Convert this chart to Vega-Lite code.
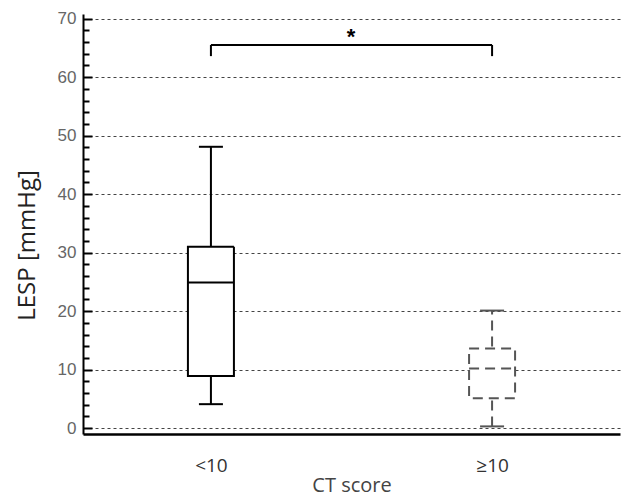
{
  "$schema": "https://vega.github.io/schema/vega-lite/v6.json",
  "width": 537,
  "height": 420,
  "autosize": "none",
  "padding": {"left": 83, "top": 14, "right": 6, "bottom": 63},
  "background": "white",
  "config": {"view": {"stroke": null}},
  "datasets": {
    "boxes": [
      {"group": "<10", "min": 4.1, "q1": 8.9, "median": 24.9, "q3": 31.0, "max": 48.1},
      {"group": "≥10", "min": 0.3, "q1": 5.1, "median": 10.2, "q3": 13.6, "max": 20.1}
    ],
    "bracket": [
      {"from": "<10", "to": "≥10", "y": 65.5, "low": 63.6, "label": "*", "mid": 67.6}
    ]
  },
  "layer": [
    {
      "data": {"name": "boxes"},
      "mark": {"type": "rule", "strokeWidth": 2},
      "encoding": {
        "x": {"field": "group", "type": "nominal", "scale": {"type": "point", "domain": ["<10", "≥10"], "padding": 0.455},
          "title": "CT score",
          "axis": {"labelAngle": 0, "domainWidth": 2.5, "domainColor": "#000", "ticks": false, "labelPadding": 22, "labelFontSize": 19, "labelFont": "Open Sans", "labelColor": "#333", "titleFont": "Open Sans", "titleFontSize": 20, "titleFontWeight": "normal", "titleColor": "#444", "titlePadding": 0, "grid": false}},
        "y": {"field": "min", "type": "quantitative", "scale": {"domain": [-1, 70.8], "nice": false, "zero": false},
          "title": "LESP [mmHg]",
          "axis": {
            "values": [0,2,4,6,8,10,12,14,16,18,20,22,24,26,28,30,32,34,36,38,40,42,44,46,48,50,52,54,56,58,60,62,64,66,68,70],
            "tickCount": 100,
            "labelExpr": "datum.value % 10 === 0 ? datum.label : ''",
            "labelOverlap": false,
            "domainColor": "#000", "domainWidth": 2,
            "tickColor": "#000", "tickWidth": 2,
            "tickSize": {"condition": {"test": "datum.value % 10 === 0", "value": -9}, "value": -6},
            "labelPadding": 16,
            "labelFont": "Liberation Sans", "labelFontSize": 17, "labelColor": "#666",
            "grid": true, "gridColor": "#444", "gridDash": [3, 3], "gridWidth": 1,
            "gridOpacity": {"condition": {"test": "datum.value % 10 === 0", "value": 1}, "value": 0},
            "titleFont": "Open Sans", "titleFontSize": 24, "titleFontWeight": "normal", "titleColor": "#222",
            "titleX": -56, "titleY": 231, "titleAngle": -90, "titleBaseline": "middle", "titleAlign": "center"
          }},
        "y2": {"field": "max"},
        "stroke": {"field": "group", "type": "nominal", "scale": {"domain": ["<10", "≥10"], "range": ["#000000", "#555555"]}, "legend": null},
        "strokeDash": {"field": "group", "type": "nominal", "scale": {"domain": ["<10", "≥10"], "range": [[1, 0], [10, 6]]}, "legend": null}
      }
    },
    {
      "data": {"name": "boxes"},
      "mark": {"type": "bar", "size": 46, "fill": "white", "strokeWidth": 2},
      "encoding": {
        "x": {"field": "group", "type": "nominal"},
        "y": {"field": "q1", "type": "quantitative"},
        "y2": {"field": "q3"},
        "stroke": {"field": "group", "type": "nominal", "legend": null},
        "strokeDash": {"field": "group", "type": "nominal", "legend": null}
      }
    },
    {
      "data": {"name": "boxes"},
      "mark": {"type": "rule", "strokeWidth": 2, "xOffset": -23, "x2Offset": 23},
      "encoding": {
        "x": {"field": "group", "type": "nominal"},
        "x2": {"field": "group"},
        "y": {"field": "median", "type": "quantitative"},
        "stroke": {"field": "group", "type": "nominal", "legend": null},
        "strokeDash": {"field": "group", "type": "nominal", "legend": null}
      }
    },
    {
      "data": {"name": "boxes"},
      "mark": {"type": "rule", "strokeWidth": 2, "xOffset": -12, "x2Offset": 12},
      "encoding": {
        "x": {"field": "group", "type": "nominal"},
        "x2": {"field": "group"},
        "y": {"field": "min", "type": "quantitative"},
        "stroke": {"field": "group", "type": "nominal", "legend": null}
      }
    },
    {
      "data": {"name": "boxes"},
      "mark": {"type": "rule", "strokeWidth": 2, "xOffset": -12, "x2Offset": 12},
      "encoding": {
        "x": {"field": "group", "type": "nominal"},
        "x2": {"field": "group"},
        "y": {"field": "max", "type": "quantitative"},
        "stroke": {"field": "group", "type": "nominal", "legend": null}
      }
    },
    {
      "data": {"name": "bracket"},
      "mark": {"type": "rule", "strokeWidth": 2, "color": "#000"},
      "encoding": {
        "x": {"field": "from", "type": "nominal"},
        "x2": {"field": "to"},
        "y": {"field": "y", "type": "quantitative"}
      }
    },
    {
      "data": {"name": "bracket"},
      "mark": {"type": "rule", "strokeWidth": 2, "color": "#000"},
      "encoding": {
        "x": {"field": "from", "type": "nominal"},
        "y": {"field": "low", "type": "quantitative"},
        "y2": {"field": "y"}
      }
    },
    {
      "data": {"name": "bracket"},
      "mark": {"type": "rule", "strokeWidth": 2, "color": "#000"},
      "encoding": {
        "x": {"field": "to", "type": "nominal"},
        "y": {"field": "low", "type": "quantitative"},
        "y2": {"field": "y"}
      }
    },
    {
      "data": {"name": "bracket"},
      "mark": {"type": "text", "fontSize": 22, "fontWeight": "bold", "font": "Liberation Sans", "color": "#000", "baseline": "middle", "dy": 4, "dx": 140},
      "encoding": {
        "x": {"field": "from", "type": "nominal"},
        "y": {"field": "mid", "type": "quantitative"},
        "text": {"field": "label"}
      }
    }
  ]
}
